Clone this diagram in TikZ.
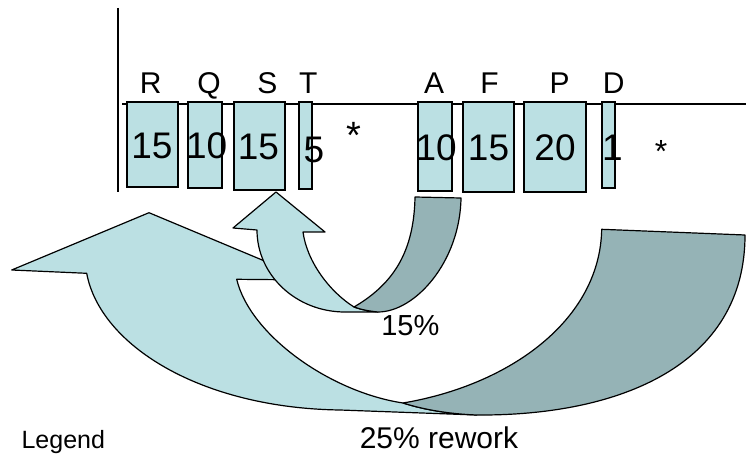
\documentclass[tikz,border=0pt]{standalone}
\usepackage{fontspec}
\setmainfont{Liberation Sans}
\definecolor{boxfill}{RGB}{187,224,227}
\definecolor{backfill}{RGB}{149,179,182}
\begin{document}
\begin{tikzpicture}[x=1pt,y=-1pt,
  task/.style={draw=black,line width=1.2pt,fill=boxfill,inner sep=0pt,outer sep=0pt,anchor=north west},
  lbl/.style={font=\fontsize{30}{36}\selectfont,anchor=base,inner sep=0pt},
  dur/.style={font=\fontsize{37}{44}\selectfont,anchor=base,inner sep=0pt},
  txt/.style={anchor=base,inner sep=0pt},
  front/.style={draw=black,line width=1.2pt,fill=boxfill,line join=round},
  back/.style={draw=black,line width=1.2pt,fill=backfill,line join=round}]
\useasboundingbox (0,0) rectangle (746,454);

% time axis
\coordinate (ytop) at (118,8);
\coordinate (ybot) at (118,192);
\coordinate (xl) at (122,104);
\coordinate (xr) at (746,104);
\draw[line width=2pt] (ytop) -- (ybot);
\draw[line width=2pt] (xl) -- (xr);

% task boxes
\node[task,minimum width=51pt,minimum height=85pt] (bR) at (127,102) {};
\node[task,minimum width=34pt,minimum height=86pt] (bQ) at (188,102) {};
\node[task,minimum width=51pt,minimum height=88pt] (bS) at (234,102) {};
\node[task,minimum width=13pt,minimum height=87pt] (bT) at (299,102) {};
\node[task,minimum width=34pt,minimum height=89pt] (bA) at (418,102) {};
\node[task,minimum width=51pt,minimum height=90pt] (bF) at (463,102) {};
\node[task,minimum width=62pt,minimum height=90pt] (bP) at (524,102) {};
\node[task,minimum width=13pt,minimum height=86pt] (bD) at (602,102) {};

% task letters
\node[lbl] (lR) at (150.8,93.3) {R};
\node[lbl] (lQ) at (209,93.3) {Q};
\node[lbl] (lS) at (267.3,93.3) {S};
\node[lbl] (lT) at (308.3,93.3) {T};
\node[lbl] (lA) at (434.2,93.3) {A};
\node[lbl] (lF) at (489.5,93.3) {F};
\node[lbl] (lP) at (559.5,93.3) {P};
\node[lbl] (lD) at (613.7,93.3) {D};

% durations
\node[dur] (dR) at (152,158.5) {15};
\node[dur] (dQ) at (206.7,159) {10};
\node[dur] (dS) at (258.5,160) {15};
\node[dur] (dT) at (313.8,162.5) {5};
\node[dur] (dA) at (436.2,161) {10};
\node[dur] (dF) at (488.5,160.7) {15};
\node[dur] (dP) at (555,160.7) {20};
\node[dur] (dD) at (612.4,160.5) {1};

\node[txt,font=\fontsize{38}{44}\selectfont] (st1) at (354,148.9) {*};
\node[txt,font=\fontsize{32}{38}\selectfont] (st2) at (661,162.9) {*};

% large rework arrow: front band with head, then back band
\path[front] (149,212.7) -- (11.7,270) -- (86.7,273.3)
  .. controls (100,345) and (200,408) .. (340,410) -- (476.7,415)
  .. controls (450,414) and (425,410) .. (403,403)
  .. controls (330,392) and (250,335) .. (236.7,279.3)
  -- (310,280) -- cycle;
\path[back] (601.7,229.3) -- (745,235)
  .. controls (745,365) and (620,416) .. (476.7,415)
  .. controls (450,414) and (425,410) .. (403,403)
  .. controls (510,385) and (600,320) .. (601.7,229.3) -- cycle;

% small rework arrow
\path[front] (276,192) -- (325,232) -- (303,232)
  .. controls (307,262) and (330,292) .. (354,307)
  .. controls (361,309.5) and (368,311) .. (378,312)
  -- (345,312)
  .. controls (296,312) and (257,275) .. (257,230)
  -- (233,228) -- cycle;
\path[back] (415,197) -- (461,198)
  .. controls (460,262) and (415,312) .. (378,312)
  .. controls (368,311) and (361,309.5) .. (354,307)
  .. controls (395,283) and (414,250) .. (415,197) -- cycle;

% captions
\node[txt,font=\fontsize{29}{34}\selectfont] (p15) at (410.3,335) {15\%};
\node[txt,font=\fontsize{30}{36}\selectfont] (p25) at (439,448.3) {25\% rework};
\node[txt,font=\fontsize{25}{30}\selectfont] (leg) at (63.3,448) {Legend};
\end{tikzpicture}
\end{document}
